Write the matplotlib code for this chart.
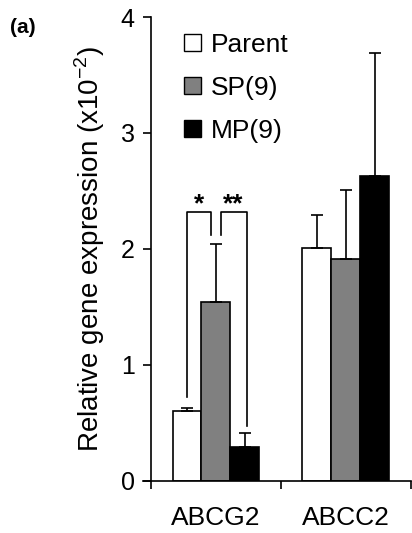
import matplotlib
matplotlib.use("Agg")
import matplotlib.pyplot as plt
import numpy as np
from matplotlib.patches import Patch

plt.rcParams['font.family'] = ['Liberation Sans', 'DejaVu Sans']

genes = ['ABCG2', 'ABCC2']
groups = ['Parent', 'SP(9)', 'MP(9)']
parent = [0.60, 2.01]
parent_err = [0.03, 0.28]
sp = [1.54, 1.91]
sp_err = [0.50, 0.60]
mp = [0.29, 2.63]
mp_err = [0.12, 1.06]
colors = ['white', '#808080', 'black']

fig = plt.figure(figsize=(4.12, 5.33), dpi=100)
ax = fig.add_axes([0.3665, 0.0976, 0.631, 0.8705])

centers = np.array([0.5, 1.5])
width = 0.223
offsets = [-width, 0, width]
series = [(parent, parent_err), (sp, sp_err), (mp, mp_err)]
for (vals, errs), off, c, lab in zip(series, offsets, colors, groups):
    ax.bar(centers + off, vals, width, color=c, edgecolor='black', linewidth=1.2,
           yerr=[np.zeros(len(errs)), errs], capsize=4.5,
           error_kw=dict(elinewidth=1.2, capthick=1.2, ecolor='black'), zorder=2)

# significance brackets (ABCG2)
xp, xs, xm = centers[0] - width, centers[0], centers[0] + width
top = 2.32
ax.plot([xp, xp, xs - 0.035, xs - 0.035], [0.72, top, top, 2.12], color='black', lw=1.2)
ax.plot([xs + 0.035, xs + 0.035, xm + 0.012, xm + 0.012], [2.12, top, top, 0.47], color='black', lw=1.2)
ax.text((xp + xs - 0.035) / 2, top - 0.04, '*', ha='center', va='bottom', fontsize=19, fontweight='bold')
ax.text((xs + 0.035 + xm + 0.012) / 2, top - 0.04, '**', ha='center', va='bottom', fontsize=19, fontweight='bold')

ax.set_xlim(0, 2)
ax.set_ylim(0, 4)
ax.set_yticks([0, 1, 2, 3, 4])
ax.set_xticks([0, 1, 2])
ax.set_xticklabels([])
ax.set_xticks(centers, minor=True)
ax.set_xticklabels(genes, minor=True, fontsize=19)
ax.tick_params(axis='x', which='minor', length=0, pad=18)
ax.tick_params(axis='x', which='major', direction='out', length=5.8, width=1.2)
ax.tick_params(axis='y', direction='out', length=5.8, width=1.2, labelsize=18, pad=6)
for s in ['top', 'right']:
    ax.spines[s].set_visible(False)
for s in ['left', 'bottom']:
    ax.spines[s].set_linewidth(1.2)
ax.spines['bottom'].set_bounds(-0.062, 2)
ax.set_ylabel(r'Relative gene expression (x10$^{\mathregular{-2}}$)', fontsize=20)
ax.yaxis.set_label_coords(-0.235, 0.5)
ax.yaxis.label.set_verticalalignment('center')

handles = [Patch(facecolor=c, edgecolor='black', linewidth=1.0) for c in colors]
ax.legend(handles, groups, loc='upper left', bbox_to_anchor=(0.127, 0.966), frameon=False,
          fontsize=19, handlelength=0.65, handleheight=0.65, handletextpad=0.35,
          labelspacing=0.72, borderaxespad=0, borderpad=0)

fig.text(0.025, 0.948, '(a)', fontsize=15, fontweight='bold', ha='left', va='center')

fig.savefig('out.png', dpi=100)
